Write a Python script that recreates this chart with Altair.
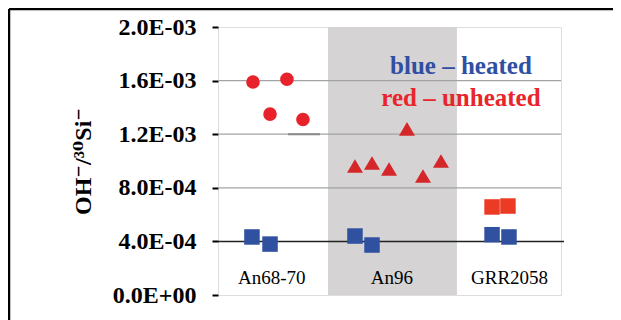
import altair as alt
import pandas as pd

# ---- data ----
CATEGORIES = ["An68-70", "An96", "GRR2058"]
CAT_POS = [0.47, 1.52, 2.55]
BAND = [0.962, 2.09]            # shaded An96 column (x-range)

UNHEATED_CIRCLE_X = [0.306, 0.603, 0.455, 0.743]
UNHEATED_CIRCLE_Y = [1.59e-3, 1.61e-3, 1.35e-3, 1.31e-3]
UNHEATED_TRI_X = [1.198, 1.347, 1.496, 1.653, 1.793, 1.950]
UNHEATED_TRI_Y = [0.963e-3, 0.985e-3, 0.94e-3, 1.24e-3, 0.888e-3, 1.0e-3]
UNHEATED_SQ_X = [2.397, 2.536]
UNHEATED_SQ_Y = [0.657e-3, 0.664e-3]
HEATED_X = [0.297, 0.455, 1.198, 1.347, 2.397, 2.545]
HEATED_Y = [0.433e-3, 0.38e-3, 0.44e-3, 0.373e-3, 0.45e-3, 0.433e-3]

GRID_Y = [0.8e-3, 1.2e-3, 1.6e-3]
REF_Y = [0.4e-3]
SEG_X = [0.612, 0.892]
SEG_Y = [1.2e-3]

Y_TICKS = [round(i * 0.0002, 4) for i in range(11)]
Y_LABELS = ["0.0E+00", "4.0E-04", "8.0E-04", "1.2E-03", "1.6E-03", "2.0E-03"]

LEGEND_TEXT = ["blue \u2013 heated", "red \u2013 unheated"]
LEGEND_COLOR = ["#2f4fa2", "#e8252b"]
LEGEND_X = [2.125, 2.125]
LEGEND_Y = [1.709e-3, 1.47e-3]

SERIF = "Liberation Serif, Times New Roman, DejaVu Serif, serif"

label_arr = []
for i in range(11):
    label_arr.append(Y_LABELS[i // 2] if i % 2 == 0 else "")
label_expr = "[" + ",".join("'" + s + "'" for s in label_arr) + "][round(datum.value/0.0002)]"

xs = alt.Scale(domain=[0, 3], nice=False, zero=False)
ys = alt.Scale(domain=[0, 0.002], nice=False, zero=True)

yaxis = alt.Axis(
    values=Y_TICKS, labelExpr=label_expr, grid=False, domain=False,
    ticks=True, tickSize=6, tickWidth=2, tickColor="black",
    labelFont=SERIF, labelFontWeight="bold", labelFontSize=24, labelColor="black",
    labelPadding=16,
    title="OH\u207b/\u00b3\u2070Si\u207b", titleFont=SERIF, titleFontWeight="bold",
    titleFontSize=24, titleColor="black", titleAngle=270, titleX=-135, titleY=134,
    titleAlign="center", titleBaseline="middle",
)

band_df = pd.DataFrame({"x": [BAND[0]], "x2": [BAND[1]]})
band = alt.Chart(band_df).mark_rect(color="#d5d3d3").encode(
    x=alt.X("x:Q", scale=xs, axis=None), x2="x2:Q",
    y=alt.value(0), y2=alt.value(268))

grid = alt.Chart(pd.DataFrame({"y": GRID_Y})).mark_rule(color="#a3a3a3", strokeWidth=1.2).encode(
    y=alt.Y("y:Q", scale=ys, axis=yaxis), x=alt.value(0), x2=alt.value(343))

seg = alt.Chart(pd.DataFrame({"x": [SEG_X[0]], "x2": [SEG_X[1]], "y": SEG_Y})).mark_rule(
    color="#8a8a8a", strokeWidth=2).encode(
    x=alt.X("x:Q", scale=xs, axis=None), x2="x2:Q", y=alt.Y("y:Q", scale=ys))

ref = alt.Chart(pd.DataFrame({"y": REF_Y})).mark_rule(color="#222222", strokeWidth=1.5).encode(
    y=alt.Y("y:Q", scale=ys), x=alt.value(0), x2=alt.value(346))

circles = alt.Chart(pd.DataFrame({"x": UNHEATED_CIRCLE_X, "y": UNHEATED_CIRCLE_Y})).mark_point(
    shape="circle", filled=True, size=185, color="#e8222a", opacity=1).encode(
    x=alt.X("x:Q", scale=xs, axis=None), y=alt.Y("y:Q", scale=ys))

tris = alt.Chart(pd.DataFrame({"x": UNHEATED_TRI_X, "y": UNHEATED_TRI_Y})).mark_point(
    shape="M0,-0.85L1,0.85L-1,0.85Z", filled=True, size=256, color="#d5262a", opacity=1).encode(
    x=alt.X("x:Q", scale=xs, axis=None), y=alt.Y("y:Q", scale=ys))

sq_red = alt.Chart(pd.DataFrame({"x": UNHEATED_SQ_X, "y": UNHEATED_SQ_Y})).mark_point(
    shape="square", filled=True, size=240, color="#ec3b25", opacity=1).encode(
    x=alt.X("x:Q", scale=xs, axis=None), y=alt.Y("y:Q", scale=ys))

sq_blue = alt.Chart(pd.DataFrame({"x": HEATED_X, "y": HEATED_Y})).mark_point(
    shape="square", filled=True, size=240, color="#3050a0", opacity=1).encode(
    x=alt.X("x:Q", scale=xs, axis=None), y=alt.Y("y:Q", scale=ys))

cat_text = alt.Chart(pd.DataFrame({"x": CAT_POS, "t": CATEGORIES})).mark_text(
    font=SERIF, fontSize=19, color="black", baseline="middle", align="center").encode(
    x=alt.X("x:Q", scale=xs, axis=None), y=alt.value(251), text="t:N")

leg = alt.Chart(pd.DataFrame({"x": LEGEND_X, "y": LEGEND_Y, "t": LEGEND_TEXT, "c": LEGEND_COLOR})).mark_text(
    font=SERIF, fontSize=25, fontWeight="bold", baseline="middle", align="center").encode(
    x=alt.X("x:Q", scale=xs, axis=None), y=alt.Y("y:Q", scale=ys), text="t:N",
    color=alt.Color("c:N", scale=None))

border_top = alt.Chart(pd.DataFrame({"a": [0]})).mark_rule(color="black", strokeWidth=2.5).encode(
    x=alt.value(-209), x2=alt.value(400), y=alt.value(-18))
border_left = alt.Chart(pd.DataFrame({"a": [0]})).mark_rule(color="black", strokeWidth=2.5).encode(
    x=alt.value(-209), y=alt.value(-18), y2=alt.value(300))

chart = alt.layer(
    band, grid, seg, ref, circles, tris, sq_red, sq_blue, cat_text, leg, border_top, border_left
).properties(
    width=343, height=268,
    autosize=alt.AutoSizeParams(type="none"),
    padding={"left": 210, "top": 19, "right": 52, "bottom": 25},
).configure_view(stroke="black", strokeWidth=2.5).configure(background="white")

chart.save("out.html", embed_options={"renderer": "svg", "actions": False})
